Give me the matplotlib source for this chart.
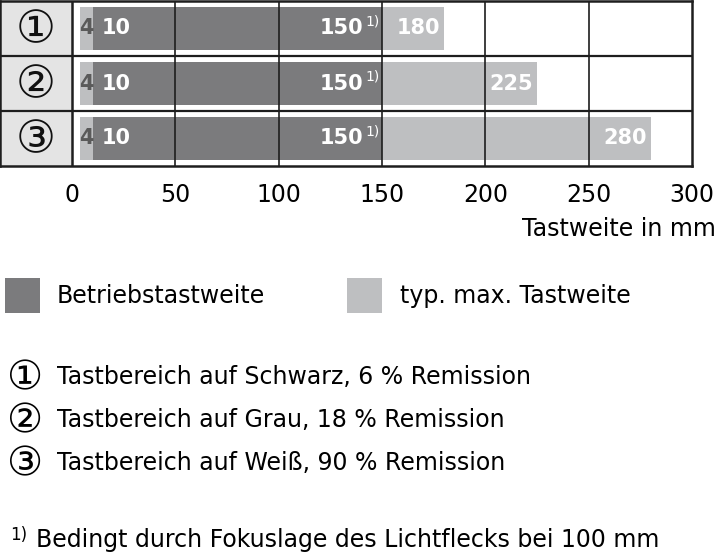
import matplotlib
matplotlib.use("Agg")
import matplotlib.pyplot as plt
from matplotlib.patches import Rectangle

# data
row_labels = ['\u2460', '\u2461', '\u2462']
near_start = 4
op_start = 10
op_end = 150
max_range = [180, 225, 280]
xticks = [0, 50, 100, 150, 200, 250, 300]

dark = '#7b7b7d'
light = '#bebfc1'
cell = '#e4e4e4'
line = '#1e1e1e'
fam = ['DejaVu Sans']
plt.rcParams['font.family'] = fam

W, H = 720, 559
fig = plt.figure(figsize=(W / 100, H / 100), dpi=100)

x0 = -72 / (620 / 300)  # label column left edge in data units
ax = fig.add_axes([0, 1 - 166 / H, 692 / W, 165 / H])
ax.set_xlim(x0, 300)
ax.set_ylim(3, 0)

for i, lab in enumerate(row_labels):
    ax.add_patch(Rectangle((x0, i), -x0, 1, facecolor=cell, edgecolor='none', zorder=0))
    ax.text(x0 / 2, i + 0.52, lab, ha='center', va='center', fontsize=32,
            color='#111111')

h = 0.78
for i, m in enumerate(max_range):
    y = i + 0.5
    ax.barh(y, op_start - near_start, left=near_start, height=h, color=light, zorder=1)
    ax.barh(y, op_end - op_start, left=op_start, height=h, color=dark, zorder=1)
    ax.barh(y, m - op_end, left=op_end, height=h, color=light, zorder=1)

    ax.text((near_start + op_start) / 2, y, '4', ha='center', va='center',
            fontsize=15, fontweight='bold', color='#5a5a5a', zorder=3)
    ax.annotate('10', (op_start, y), xytext=(6.5, 0), textcoords='offset points',
                ha='left', va='center', fontsize=15, fontweight='bold', color='white', zorder=3)
    ax.annotate('150', (op_end, y), xytext=(-13.5, 0), textcoords='offset points',
                ha='right', va='center', fontsize=15, fontweight='bold', color='white', zorder=3)
    ax.annotate('1)', (op_end, y), xytext=(-1.5, 5), textcoords='offset points',
                ha='right', va='center', fontsize=10, color='white', zorder=3)
    ax.annotate(str(m), (m, y), xytext=(-3, 0), textcoords='offset points',
                ha='right', va='center', fontsize=15, fontweight='bold', color='white', zorder=3)

# grid
for v in xticks[1:-1]:
    ax.axvline(v, color=line, lw=1.2, zorder=2)
ax.axvline(0, color=line, lw=1.8, zorder=2)
for r in [1, 2]:
    ax.axhline(r, color=line, lw=1.6, zorder=2)
for s in ax.spines.values():
    s.set_color(line)
    s.set_linewidth(1.8)

ax.set_xticks(xticks)
ax.set_xticklabels([str(v) for v in xticks], fontsize=17)
ax.tick_params(axis='x', length=0, pad=12)
ax.set_yticks([])

def ftext(px, py, s, **kw):
    kw.setdefault('fontsize', 17)
    kw.setdefault('va', 'center')
    fig.text(px / W, 1 - py / H, s, **kw)

ftext(716, 229, 'Tastweite in mm', ha='right')

# legend
fig.patches.append(Rectangle((5 / W, 1 - 313 / H), 35 / W, 35 / H, transform=fig.transFigure,
                             facecolor=dark, edgecolor='none'))
ftext(57, 296, 'Betriebstastweite')
fig.patches.append(Rectangle((347 / W, 1 - 313 / H), 35 / W, 35 / H, transform=fig.transFigure,
                             facecolor=light, edgecolor='none'))
ftext(400, 296, 'typ. max. Tastweite')

notes = ['Tastbereich auf Schwarz, 6 % Remission',
         'Tastbereich auf Grau, 18 % Remission',
         'Tastbereich auf Weiß, 90 % Remission']
for k, (lab, n) in enumerate(zip(row_labels, notes)):
    yy = 377 + k * 43
    ftext(7, yy + 1, lab, fontsize=29)
    ftext(57, yy, n)

ftext(10, 535, '1)', fontsize=12)
ftext(36, 540, 'Bedingt durch Fokuslage des Lichtflecks bei 100 mm')

plt.savefig('out.png', dpi=100)
